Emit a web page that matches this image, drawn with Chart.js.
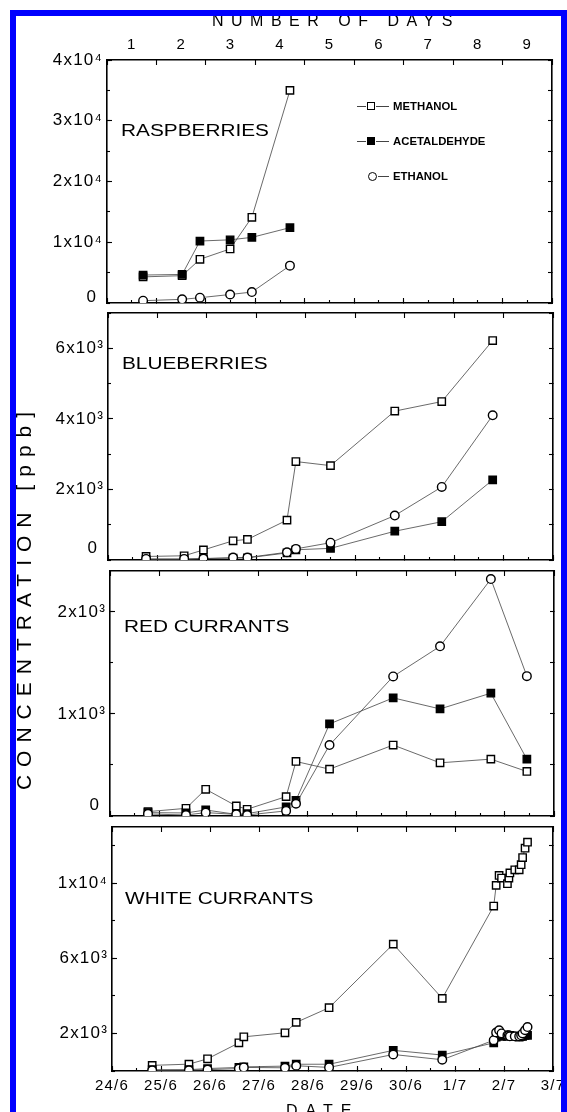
<!DOCTYPE html>
<html>
<head>
<meta charset="utf-8">
<script src="https://cdn.jsdelivr.net/npm/chart.js@4.4.1/dist/chart.umd.min.js"></script>
<style>
html, body { margin: 0; padding: 0; background: #fff; }
#page { position: relative; width: 567px; height: 1112px; overflow: hidden; background: #fff;
        font-family: "Liberation Sans", Arial, Helvetica, sans-serif; color: #000; }
canvas.panel { position: absolute; left: 0; top: 0; }
.txt { position: absolute; white-space: nowrap; transform-origin: 0 50%; }
.title { font-size: 16px; line-height: 20px; transform: scaleX(1.3); }
.leg { position: absolute; height: 14px; }
.leg .ln { position: absolute; top: 6.5px; height: 0; border-top: 1px solid #444; }
.leg .sq { position: absolute; top: 3px; width: 6px; height: 6px; border: 1.5px solid #000; background: #fff; }
.leg .sq.fill { background: #000; }
.leg .ci { position: absolute; top: 2.5px; width: 7px; height: 7px; border: 1.4px solid #000; border-radius: 50%; background: #fff; }
.leg .lt { position: absolute; top: 0; font-size: 10.5px; font-weight: bold; line-height: 14px; transform: scaleX(1.08); transform-origin: 0 50%; }
#frame { position: absolute; left: 10px; top: 10px; width: 557px; height: 1200px; box-sizing: border-box;
         border: 6px solid #0000ff; border-bottom: none; }
</style>
</head>
<body>
<div id="page">
  <canvas id="rasp" class="panel" width="567" height="1112"></canvas>
  <canvas id="blue" class="panel" width="567" height="1112"></canvas>
  <canvas id="red" class="panel" width="567" height="1112"></canvas>
  <canvas id="white" class="panel" width="567" height="1112"></canvas>

  <div class="txt title" style="left:121px; top:121px;">RASPBERRIES</div>
  <div class="txt title" style="left:122px; top:354px;">BLUEBERRIES</div>
  <div class="txt title" style="left:124px; top:617px;">RED CURRANTS</div>
  <div class="txt title" style="left:125px; top:889px;">WHITE CURRANTS</div>

  <div class="leg" style="left:0; top:99px;">
    <span class="ln" style="left:357px; width:9px;"></span>
    <span class="sq" style="left:367px;"></span>
    <span class="ln" style="left:376px; width:13px;"></span>
    <span class="lt" style="left:393px;">METHANOL</span>
  </div>
  <div class="leg" style="left:0; top:134px;">
    <span class="ln" style="left:357px; width:9px;"></span>
    <span class="sq fill" style="left:367px;"></span>
    <span class="ln" style="left:376px; width:13px;"></span>
    <span class="lt" style="left:393px;">ACETALDEHYDE</span>
  </div>
  <div class="leg" style="left:0; top:169px;">
    <span class="ci" style="left:368px;"></span>
    <span class="ln" style="left:378px; width:11px;"></span>
    <span class="lt" style="left:393px;">ETHANOL</span>
  </div>

  <div class="txt" style="left:212px; top:11px; font-size:16px; line-height:20px; letter-spacing:7.5px;">NUMBER OF DAYS</div>
  <div class="txt" style="left:286px; top:1101px; font-size:16px; line-height:20px; letter-spacing:8px;">DATE</div>
  <div class="txt" style="left:24px; top:597px; font-size:21px; line-height:24px; letter-spacing:8px;
       transform-origin: 0 0; transform: rotate(-90deg) translate(-50%, -50%);">CONCENTRATION [ppb]</div>

  <div id="frame"></div>
</div>

<script>
const FONT = '"Liberation Sans", Arial, Helvetica, sans-serif';

// Achsenbeschriftungen
const dateLabels = ['24/6', '25/6', '26/6', '27/6', '28/6', '29/6', '30/6', '1/7', '2/7', '3/7'];
const dayLabels = ['1', '2', '3', '4', '5', '6', '7', '8', '9'];
const datePos = [0, 1, 2, 3, 4, 5, 6, 7, 8, 9];
const dayPos = [0.5, 1.5, 2.5, 3.5, 4.5, 5.5, 6.5, 7.5, 8.5];

// Himbeeren (x = Tage ab 24/6)
const raspDays = [0.73, 1.52, 1.88, 2.49, 2.93, 3.70];
const raspMethanol = [4300, 4500, 7200, 8900, 14100, 35000];
const raspAcetaldehyde = [4600, 4700, 10200, 10400, 10800, 12400];
const raspEthanol = [380, 600, 870, 1400, 1800, 6150];
const raspYTicks = [10000, 20000, 30000, 40000];
const raspYLabels = ['1x10⁴', '2x10⁴', '3x10⁴', '4x10⁴'];

// Heidelbeeren
const blueDays = [0.77, 1.54, 1.93, 2.53, 2.82, 3.62, 3.80, 4.50, 5.80, 6.75, 7.78];
const blueMethanol = [100, 120, 285, 545, 583, 1130, 2790, 2675, 4220, 4490, 6220];
const blueAcetaldehyde = [20, 20, 40, 50, 60, 200, 290, 330, 815, 1085, 2270];
const blueEthanol = [30, 30, 40, 70, 70, 220, 315, 490, 1260, 2070, 4100];
const blueYTicks = [2000, 4000, 6000];
const blueYLabels = ['2x10³', '4x10³', '6x10³'];

// Rote Johannisbeeren
const redDays = [0.77, 1.54, 1.94, 2.56, 2.78, 3.57, 3.77, 4.45, 5.74, 6.69, 7.72, 8.45];
const redMethanol = [43, 75, 262, 98, 66, 190, 534, 459, 695, 521, 557, 436];
const redAcetaldehyde = [33, 30, 59, 16, 23, 89, 154, 902, 1157, 1049, 1203, 557];
const redEthanol = [20, 10, 33, 16, 10, 50, 120, 695, 1367, 1662, 2321, 1370];
const redYTicks = [1000, 2000];
const redYLabels = ['1x10³', '2x10³'];

// Weisse Johannisbeeren
const whiteDays = [0.82, 1.57, 1.95, 2.59, 2.69, 3.53, 3.76, 4.43, 5.74, 6.74, 7.79,
                   7.84, 7.90, 7.95, 8.07, 8.10, 8.12, 8.22, 8.31, 8.35, 8.38, 8.43, 8.48];
const whiteMethanol = [300, 364, 650, 1500, 1820, 2036, 2590, 3370, 6760, 3870, 8790,
                       9890, 10420, 10280, 9980, 10280, 10550, 10720, 10720, 10990, 11370, 11870, 12190];
const whiteAcetaldehyde = [70, 70, 130, 190, 220, 260, 360, 360, 1100, 850, 1500,
                           1800, 1900, 1850, 1850, 1900, 1900, 1850, 1800, 1850, 1850, 1900, 1900];
const whiteEthanol = [30, 40, 70, 130, 190, 170, 280, 190, 880, 600, 1640,
                      2050, 2170, 2000, 1900, 1900, 1850, 1850, 1850, 1900, 2000, 2170, 2340];
const whiteYTicks = [2000, 6000, 10000];
const whiteYLabels = ['2x10³', '6x10³', '1x10⁴'];

const W = 567, H = 1112;

const steps = (max, step) => Array.from({ length: Math.floor(max / step + 1e-9) + 1 }, (_, i) => i * step);
const halfDays = steps(9, 0.5);

function xy(days, vals) {
    return days.map((d, i) => ({ x: d, y: vals[i] }));
}

function serie(label, days, vals, style, fill, radius) {
    return {
        label: label,
        data: xy(days, vals),
        borderColor: '#444',
        borderWidth: 0.8,
        pointStyle: style,
        pointRadius: radius,
        pointBorderColor: '#000',
        pointBorderWidth: 1.4,
        pointBackgroundColor: fill,
        tension: 0
    };
}

// feste Achsengroessen, damit die Plotflaeche genau sitzt
const fixW = w => s => { s.width = w; s.paddingTop = 0; s.paddingBottom = 0; };
const fixH = h => s => { s.height = h; s.paddingLeft = 0; s.paddingRight = 0; };
const setTicks = vals => s => { s.ticks = vals.map(v => ({ value: v })); };

function tickGrid(len) {
    return { drawOnChartArea: false, drawTicks: true, tickLength: len, tickColor: '#000', tickWidth: 1.1 };
}
const boxBorder = { display: true, color: '#000', width: 1.6 };

function makePanel(id, p) {
    const [L, T, R, B] = p.box;
    const minor = steps(p.yMax, p.yStep);
    const xBase = { type: 'linear', min: 0, max: 9 };
    const yBase = { type: 'linear', min: 0, max: p.yMax };

    const scales = {};
    // unten
    scales.xMinor = Object.assign({}, xBase, {
        position: 'bottom', afterBuildTicks: setTicks(halfDays), afterFit: fixH(0),
        grid: tickGrid(-3), border: { display: false }, ticks: { display: false }
    });
    scales.x = Object.assign({}, xBase, {
        position: 'bottom', afterBuildTicks: setTicks(datePos), afterFit: fixH(H - B),
        grid: tickGrid(-5), border: boxBorder,
        ticks: {
            display: p.dates, autoSkip: false, maxRotation: 0, minRotation: 0, padding: 11,
            font: { family: FONT, size: 15 }, color: '#000',
            callback: (v, i) => dateLabels[i]
        }
    });
    // oben
    scales.xt = Object.assign({}, xBase, {
        position: 'top', afterBuildTicks: setTicks(datePos), afterFit: fixH(p.days ? 0 : T),
        grid: tickGrid(-5), border: boxBorder, ticks: { display: false }
    });
    if (p.days) {
        scales.xDays = Object.assign({}, xBase, {
            position: 'top', afterBuildTicks: setTicks(dayPos), afterFit: fixH(T),
            grid: { display: false, drawTicks: false }, border: { display: false },
            ticks: {
                autoSkip: false, maxRotation: 0, padding: 6,
                font: { family: FONT, size: 15 }, color: '#000',
                callback: (v, i) => dayLabels[i]
            }
        });
    }
    // links
    scales.yMinor = Object.assign({}, yBase, {
        position: 'left', afterBuildTicks: setTicks(minor), afterFit: fixW(0),
        grid: tickGrid(-3), border: { display: false }, ticks: { display: false }
    });
    if (p.zeroShift !== null) {
        // eigene Achse nur fuer die "0", etwas nach oben und links versetzt
        scales.y0 = Object.assign({}, yBase, {
            position: 'left', afterBuildTicks: setTicks([0]), afterFit: fixW(0),
            grid: { display: false, drawTicks: false }, border: { display: false },
            ticks: {
                mirror: true, padding: -20.5, labelOffset: -p.zeroShift,
                font: { family: FONT, size: 17 }, color: '#000',
                callback: () => '0'
            }
        });
    }
    scales.y = Object.assign({}, yBase, {
        position: 'left', afterBuildTicks: setTicks(p.yTicks), afterFit: fixW(L),
        grid: tickGrid(-5), border: boxBorder,
        ticks: {
            autoSkip: false, padding: 9,
            font: { family: FONT, size: 17 }, color: '#000',
            callback: (v, i) => p.yLabels[i]
        }
    });
    // rechts
    scales.yr = Object.assign({}, yBase, {
        position: 'right', afterBuildTicks: setTicks(minor), afterFit: fixW(W - R),
        grid: tickGrid(-4), border: boxBorder, ticks: { display: false }
    });

    return new Chart(document.getElementById(id), {
        type: 'line',
        data: {
            datasets: [
                serie('ETHANOL', p.x, p.eth, 'circle', '#fff', 4.3),
                serie('ACETALDEHYDE', p.x, p.acet, 'rect', '#000', 5.2),
                serie('METHANOL', p.x, p.meth, 'rect', '#fff', 5.2)
            ]
        },
        options: {
            responsive: false,
            devicePixelRatio: 1,
            animation: false,
            events: [],
            layout: { padding: 0 },
            plugins: { legend: { display: false }, tooltip: { enabled: false }, title: { display: false } },
            scales: scales
        },
        plugins: [{
            id: 'spacing',
            beforeDraw(chart) { chart.ctx.letterSpacing = '1.2px'; }
        }]
    });
}

makePanel('rasp', {
    box: [107, 60, 552, 303], x: raspDays,
    meth: raspMethanol, acet: raspAcetaldehyde, eth: raspEthanol,
    yMax: 40000, yStep: 5000, yTicks: raspYTicks, yLabels: raspYLabels,
    zeroShift: 6, dates: false, days: true
});
makePanel('blue', {
    box: [108, 313, 553, 560], x: blueDays,
    meth: blueMethanol, acet: blueAcetaldehyde, eth: blueEthanol,
    yMax: 7000, yStep: 1000, yTicks: blueYTicks, yLabels: blueYLabels,
    zeroShift: 12, dates: false, days: false
});
makePanel('red', {
    box: [110, 571, 554, 816], x: redDays,
    meth: redMethanol, acet: redAcetaldehyde, eth: redEthanol,
    yMax: 2400, yStep: 500, yTicks: redYTicks, yLabels: redYLabels,
    zeroShift: 11, dates: false, days: false
});
makePanel('white', {
    box: [112, 827, 553, 1071], x: whiteDays,
    meth: whiteMethanol, acet: whiteAcetaldehyde, eth: whiteEthanol,
    yMax: 13000, yStep: 2000, yTicks: whiteYTicks, yLabels: whiteYLabels,
    zeroShift: null, dates: true, days: false
});
</script>
</body>
</html>
